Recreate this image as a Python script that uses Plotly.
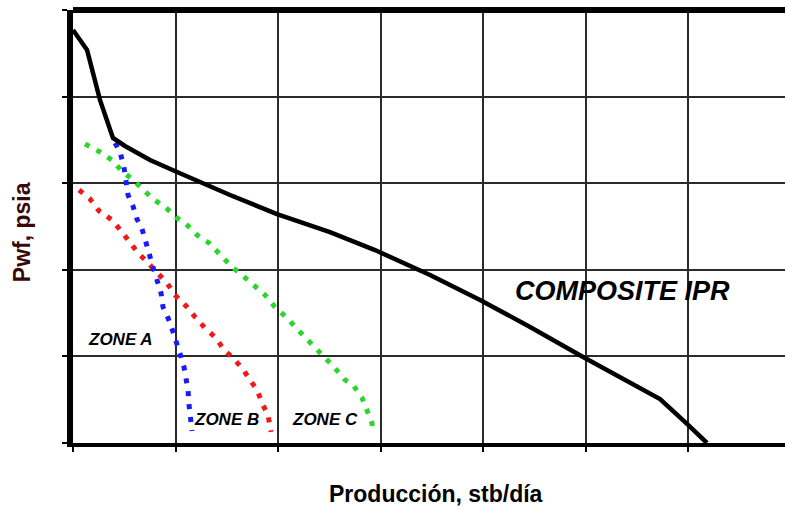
import plotly.graph_objects as go

# Composite IPR (x: stb/dia, y: psia)
comp_q = [0, 13.7, 26.3, 39.0, 50.7, 75.1, 101.5, 153.2, 199.0, 250.7, 294.6, 348.3, 397.1, 445.9, 497.6, 543.4, 572.7, 599.0, 618.5]
comp_p = [2385, 2269, 1981, 1761, 1715, 1634, 1565, 1432, 1322, 1218, 1114, 970, 826, 670, 497, 346, 254, 110, 0]

# Zone A (blue)
za_q = [41.0, 45.9, 49.8, 51.7, 53.7, 58.5, 62.4, 67.3, 72.2, 74.1, 78.0, 82.9, 85.9, 87.8, 92.7, 97.6, 101.5, 105.4, 108.3, 110.2, 112.2, 113.2, 114.1, 116.1]
za_p = [1732, 1680, 1588, 1507, 1432, 1368, 1293, 1236, 1149, 1097, 1016, 930, 866, 785, 722, 641, 577, 497, 439, 375, 306, 219, 150, 69]

# Zone B (red)
zb_q = [5.9, 16.6, 25.4, 38.0, 47.8, 53.7, 63.4, 74.1, 82.9, 91.7, 99.5, 111.2, 119.0, 128.8, 139.5, 147.3, 156.1, 164.9, 172.7, 179.5, 185.4, 190.2, 193.2]
zb_p = [1461, 1409, 1340, 1288, 1218, 1172, 1097, 1034, 982, 924, 855, 785, 728, 664, 606, 537, 491, 433, 364, 306, 219, 162, 64]

# Zone C (green)
zc_q = [11.7, 26.3, 38.0, 46.8, 58.5, 68.3, 78.0, 89.8, 101.5, 112.2, 121.0, 132.7, 143.4, 155.1, 164.9, 175.6, 187.3, 197.1, 208.8, 219.5, 231.2, 242.9, 254.6, 265.4, 273.2, 282.0, 286.8, 291.7, 292.7]
zc_p = [1726, 1680, 1634, 1576, 1519, 1467, 1409, 1363, 1299, 1253, 1201, 1155, 1091, 1016, 970, 912, 855, 785, 722, 652, 583, 514, 439, 364, 335, 260, 191, 115, 58]

labels = ["ZONE A", "ZONE B", "ZONE C", "COMPOSITE IPR"]
label_q = [46.8, 150.2, 245.9, 535.6]
label_p = [595, 133, 133, 878]
label_size = [17, 17, 17, 27]

FONT = "Arial, Liberation Sans, sans-serif"

fig = go.Figure()
dot = "5px,8px"
fig.add_trace(go.Scatter(x=zc_q, y=zc_p, mode="lines", line=dict(color="#2bd62b", width=5, dash=dot), hoverinfo="skip"))
fig.add_trace(go.Scatter(x=zb_q, y=zb_p, mode="lines", line=dict(color="#f01818", width=5, dash=dot), hoverinfo="skip"))
fig.add_trace(go.Scatter(x=za_q, y=za_p, mode="lines", line=dict(color="#1a1aff", width=5, dash=dot), hoverinfo="skip"))
fig.add_trace(go.Scatter(x=comp_q, y=comp_p, mode="lines", line=dict(color="black", width=4.5), hoverinfo="skip"))

for t, q, p, s in zip(labels, label_q, label_p, label_size):
    fig.add_annotation(x=q, y=p, text="<b><i>" + t + "</i></b>", showarrow=False,
                       font=dict(family=FONT, size=s, color="black"),
                       xanchor="center", yanchor="middle")

fig.add_annotation(xref="paper", yref="paper", x=0.51, y=-0.118, text="<b>Producción, stb/día</b>",
                   showarrow=False, font=dict(family=FONT, size=23, color="black"),
                   xanchor="center", yanchor="middle")
fig.add_annotation(xref="paper", yref="paper", x=-0.0716, y=0.487, text="<b>Pwf, psia</b>",
                   showarrow=False, textangle=-90, font=dict(family=FONT, size=23, color="#3a0808"),
                   xanchor="center", yanchor="middle")

fig.add_shape(type="line", xref="paper", yref="paper", x0=0, x1=1, y0=1, y1=1,
              line=dict(color="black", width=6))

fig.update_layout(
    width=785, height=510,
    margin=dict(l=73, r=0, t=10, b=67),
    plot_bgcolor="white", paper_bgcolor="white",
    showlegend=False,
    xaxis=dict(range=[0, 694.6], tick0=0, dtick=100, showgrid=True, gridcolor="#2a2a2a", gridwidth=2,
               zeroline=False, showline=True, linecolor="black", linewidth=4, automargin=False,
               ticks="outside", ticklen=5, tickwidth=2, tickcolor="black", showticklabels=False),
    yaxis=dict(range=[0, 2500], tick0=0, dtick=500, showgrid=True, gridcolor="#2a2a2a", gridwidth=2,
               zeroline=False, showline=True, linecolor="black", linewidth=6, automargin=False,
               ticks="outside", ticklen=5, tickwidth=2, tickcolor="black", showticklabels=False),
)

fig.write_html("out.html", config={"displayModeBar": False},
               post_script="document.body.style.margin='0';document.body.style.overflow='hidden';")
